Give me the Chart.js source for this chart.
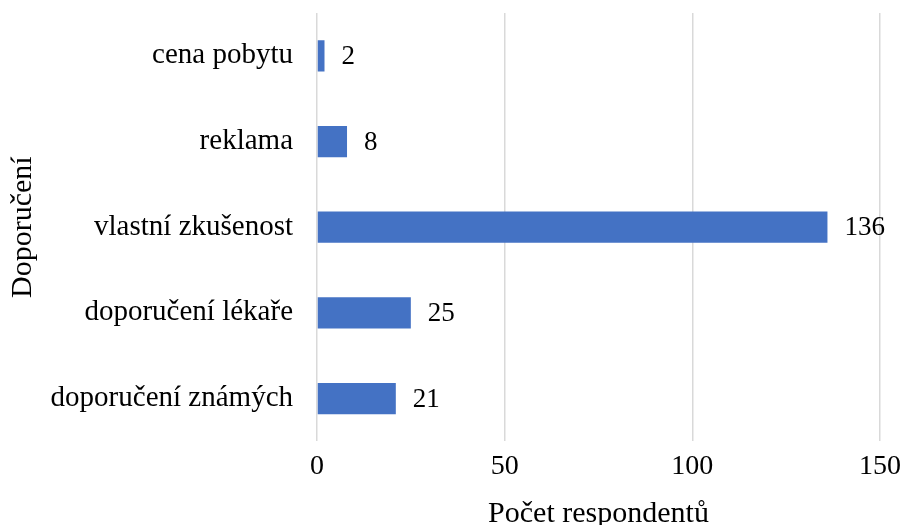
<!DOCTYPE html>
<html>
<head>
<meta charset="utf-8">
<script src="https://cdn.jsdelivr.net/npm/chart.js@4.4.1/dist/chart.umd.min.js"></script>
<style>
  html, body { margin: 0; padding: 0; background: #fff; }
  #wrap { width: 903px; height: 525px; }
</style>
</head>
<body>
<div id="wrap"><canvas id="chart"></canvas></div>
<script>
// Data
const categories = ['cena pobytu', 'reklama', 'vlastní zkušenost', 'doporučení lékaře', 'doporučení známých'];
const counts = [2, 8, 136, 25, 21];
const xTicks = [0, 50, 100, 150];

const fontFamily = '"Liberation Serif", "Times New Roman", serif';

// draws the value next to each bar
const valueLabels = {
    id: 'valueLabels',
    afterDatasetsDraw(chart) {
        const ctx = chart.ctx;
        const meta = chart.getDatasetMeta(0);
        ctx.save();
        ctx.font = '27px ' + fontFamily;
        ctx.fillStyle = '#000';
        ctx.textAlign = 'left';
        ctx.textBaseline = 'middle';
        meta.data.forEach((bar, i) => {
            ctx.fillText(String(counts[i]), bar.x + 17, bar.y + 1);
        });
        ctx.restore();
    }
};

new Chart(document.getElementById('chart'), {
    type: 'bar',
    data: {
        labels: categories,
        datasets: [{
            data: counts,
            backgroundColor: '#4472C4',
            borderWidth: 0,
            barPercentage: 0.73,
            categoryPercentage: 0.5
        }]
    },
    options: {
        indexAxis: 'y',
        responsive: true,
        maintainAspectRatio: false,
        animation: false,
        layout: { padding: { top: 13, right: 23, bottom: -4, left: 0 } },
        plugins: {
            legend: { display: false },
            tooltip: { enabled: false }
        },
        scales: {
            x: {
                min: 0,
                max: 150,
                afterBuildTicks(axis) {
                    axis.ticks = xTicks.map(v => ({ value: v }));
                },
                afterFit(scale) {
                    scale.paddingLeft = 0;
                    scale.paddingRight = 0;
                },
                grid: { color: '#d9d9d9', lineWidth: 1.5, drawTicks: false },
                border: { display: false },
                ticks: {
                    padding: 8,
                    color: '#000',
                    font: { family: fontFamily, size: 28 }
                },
                title: {
                    display: true,
                    text: 'Počet respondentů',
                    color: '#000',
                    font: { family: fontFamily, size: 30, lineHeight: 1 },
                    padding: { top: 8, bottom: 0 }
                }
            },
            y: {
                afterFit(scale) {
                    scale.width = 317;
                    scale.paddingTop = 0;
                    scale.paddingBottom = 0;
                },
                grid: { display: false, drawTicks: false },
                border: { display: false },
                ticks: {
                    padding: 24,
                    color: '#000',
                    font: { family: fontFamily, size: 29 }
                },
                title: {
                    display: true,
                    text: 'Doporučení',
                    color: '#000',
                    font: { family: fontFamily, size: 30, lineHeight: 1 },
                    padding: { top: 8, bottom: 0 }
                }
            }
        }
    },
    plugins: [valueLabels]
});
</script>
</body>
</html>
